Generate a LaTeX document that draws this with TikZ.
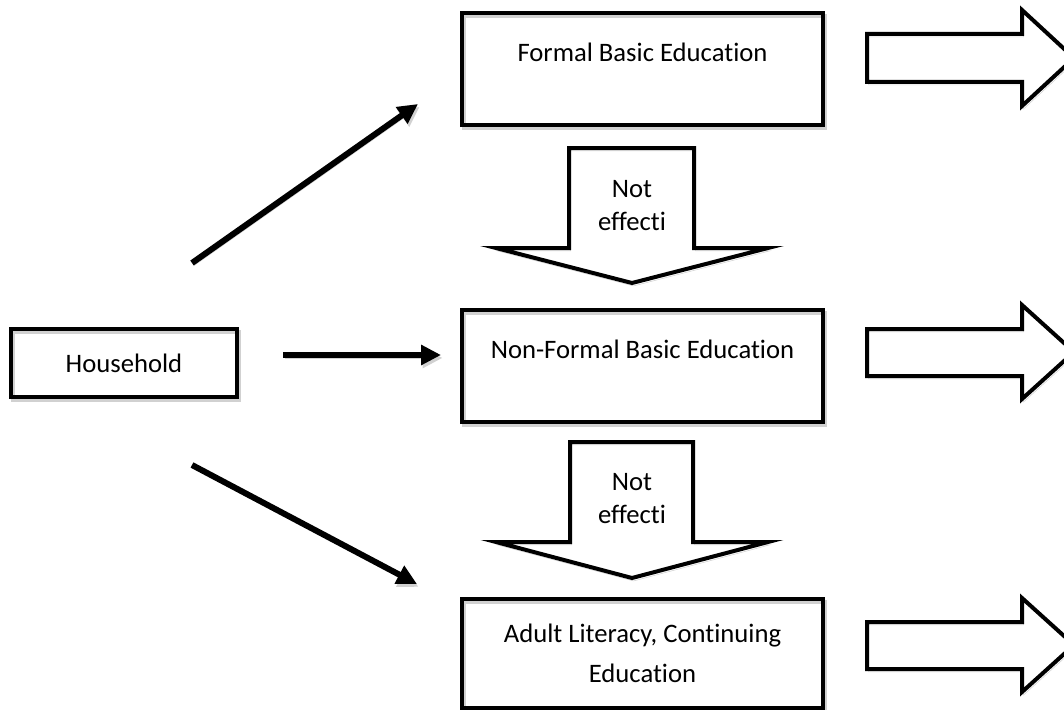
\documentclass[tikz,border=0pt]{standalone}
\usepackage{fontspec}
\setmainfont{Carlito}[Ligatures={NoCommon}]
\usetikzlibrary{arrows.meta}

\tikzset{
  ghost/.style={preaction={draw=black!18, transform canvas={shift={(1.2pt,-2.2pt)}}}},
  box/.style={draw, line width=3pt, ghost, outer sep=0pt, inner sep=0pt,
    minimum width=270.75pt, align=center,
    font=\fontsize{20pt}{30pt}\selectfont},
  toptext/.style={text height=36.5pt, text depth=47.5pt},
  blockarrow/.style={draw, line width=3pt, line join=miter, ghost},
  flow/.style={line width=4.5pt, -{Triangle[length=15pt,width=14.5pt]}, ghost},
  note/.style={align=center, font=\fontsize{20pt}{24.75pt}\selectfont}
}

\begin{document}
\begin{tikzpicture}[x=0.75pt, y=-0.75pt]
  \useasboundingbox (0,0) rectangle (1064,710);

  % the three kinds of education
  \node[box, toptext, anchor=north] (formal) at (642.5,13) {Formal Basic Education};
  \node[box, toptext, anchor=north] (nonformal) at (642.5,310) {Non-Formal Basic Education};
  \node[box, anchor=north, minimum height=81.75pt] (adult) at (642.5,599)
    {Adult Literacy, Continuing\\ Education};
  \node[box, minimum width=169.5pt, minimum height=51pt] (household) at (124,363) {Household};

  % outputs on the right
  \draw[blockarrow] (867,34) -- (1022,34) -- (1022,10) -- (1074,58)
    -- (1022,106) -- (1022,82) -- (867,82) -- cycle;
  \draw[blockarrow] (867,329) -- (1022,329) -- (1022,305) -- (1074,352)
    -- (1022,399) -- (1022,376) -- (867,376) -- cycle;
  \draw[blockarrow] (867,622) -- (1022,622) -- (1022,598) -- (1074,645)
    -- (1022,692) -- (1022,669) -- (867,669) -- cycle;

  % fall-through arrows
  \draw[blockarrow] (569,148) -- (694,148) -- (694,248) -- (768,248)
    -- (632,283) -- (496,248) -- (569,248) -- cycle;
  \draw[blockarrow] (570,442) -- (693,442) -- (693,542) -- (768,542)
    -- (632,578) -- (496,542) -- (570,542) -- cycle;
  \node[note] (fail1) at (632,206) {Not\\ effecti};
  \node[note] (fail2) at (632,499) {Not\\ effecti};

  % household choices
  \coordinate (upfrom) at (192,263);
  \coordinate (upto) at (418,104);
  \coordinate (midfrom) at (283,355);
  \coordinate (midto) at (441,355);
  \coordinate (downfrom) at (192,465);
  \coordinate (downto) at (417,584);
  \draw[flow] (upfrom) -- (upto);
  \draw[flow] (midfrom) -- (midto);
  \draw[flow] (downfrom) -- (downto);
\end{tikzpicture}
\end{document}
